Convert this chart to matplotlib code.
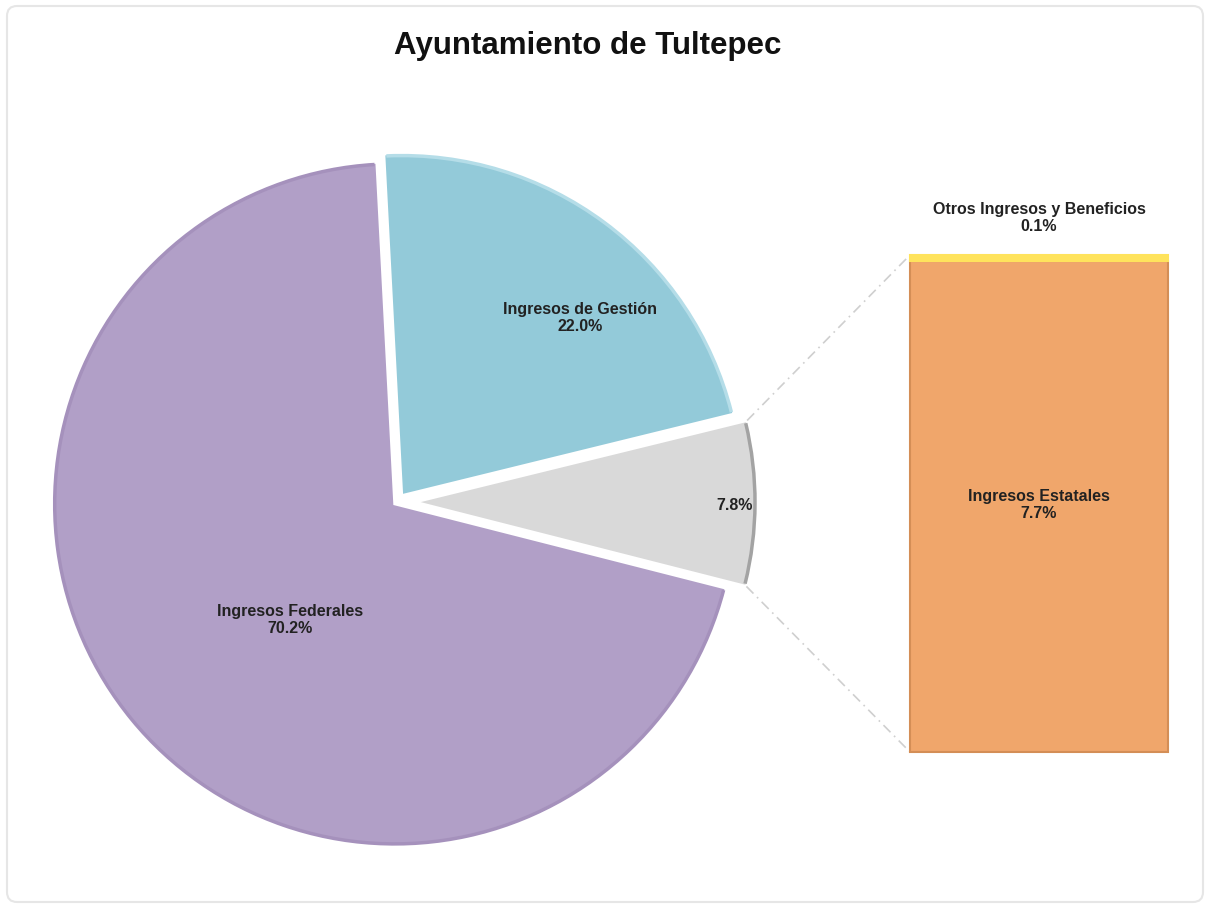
import matplotlib
matplotlib.use("Agg")
import matplotlib.pyplot as plt
from matplotlib.patches import FancyBboxPatch, Arc
import numpy as np

# ---- data ----
title = "Ayuntamiento de Tultepec"
pie_labels = ["Ingresos Federales", "", "Ingresos de Gestión"]
pie_values = [70.2, 7.8, 22.0]
pie_colors = ["#B19FC7", "#D9D9D9", "#93CAD9"]
pie_edges = ["#A591BC", "#A3A3A3", "#B5DDE8"]

bar_labels = ["Ingresos Estatales", "Otros Ingresos y Beneficios"]
bar_values = [7.7, 0.1]
bar_colors = ["#F0A66B", "#FFE35C"]

W, H = 1205, 907
fig = plt.figure(figsize=(W / 100, H / 100), dpi=100)
ax = fig.add_axes([0, 0, 1, 1])

# outer frame
frame = FancyBboxPatch((7, 5), W - 9, H - 11, boxstyle="round,pad=0,rounding_size=10",
                       fc="white", ec="#E6E6E6", lw=1.5, zorder=0)
ax.add_patch(frame)

FONT = ["Liberation Sans Narrow", "Liberation Sans", "DejaVu Sans"]

# ---- pie ----
cx, cy, R = 397, H - 502, 342
wedges, _ = ax.pie(pie_values, startangle=93, counterclock=True, radius=R,
                   center=(cx, cy), colors=pie_colors, explode=[3, 18, 8],
                   wedgeprops=dict(edgecolor="white", linewidth=2), frame=True)
ax.set_xlim(0, W)
ax.set_ylim(0, H)
ax.set_aspect("equal")
ax.axis("off")

# darker rim on outer arc
for w, ec in zip(wedges, pie_edges):
    arc = Arc(w.center, 2 * w.r - 4, 2 * w.r - 4, theta1=w.theta1 + 0.4, theta2=w.theta2 - 0.4,
              color=ec, lw=2.5, zorder=3)
    ax.add_patch(arc)

# pie labels
label_pos = [(290, 620), (735, 505), (580, 318)]
for (lx, ly), name, v in zip(label_pos, pie_labels, pie_values):
    txt = f"{name}\n{v:.1f}%" if name else f"{v:.1f}%"
    ax.text(lx, H - ly, txt, ha="center", va="center", fontsize=11.5,
            fontweight="bold", family=FONT, color="#222222", linespacing=1.15, zorder=5)

# ---- bar ----
bx0, bx1 = 910, 1168
by_bottom = H - 752
bar_h_total = 497
scale = bar_h_total / sum(bar_values)
bottom = by_bottom
for v, c in zip(bar_values, bar_colors):
    ax.bar((bx0 + bx1) / 2, v * scale, width=bx1 - bx0, bottom=bottom, color=c,
           edgecolor="#D48E56" if c == bar_colors[0] else c, linewidth=1.5, zorder=3)
    bottom += v * scale

ax.text((bx0 + bx1) / 2, H - 505, f"{bar_labels[0]}\n{bar_values[0]:.1f}%", ha="center",
        va="center", fontsize=11.5, fontweight="bold", family=FONT, color="#222222",
        linespacing=1.15, zorder=5)
ax.text((bx0 + bx1) / 2, H - 218, f"{bar_labels[1]}\n{bar_values[1]:.1f}%", ha="center",
        va="center", fontsize=11.5, fontweight="bold", family=FONT, color="#222222",
        linespacing=1.15, zorder=5)

# ---- connector lines ----
g = wedges[1]
gx, gy = g.center
t1, t2 = np.deg2rad(g.theta1), np.deg2rad(g.theta2)
p_low = (gx + g.r * np.cos(t1), gy + g.r * np.sin(t1))
p_high = (gx + g.r * np.cos(t2), gy + g.r * np.sin(t2))
ax.plot([p_high[0], bx0], [p_high[1], bottom], ls=(0, (6, 3, 1, 3)), color="#CFCFCF",
        lw=1.2, zorder=2)
ax.plot([p_low[0], bx0], [p_low[1], by_bottom], ls=(0, (6, 3, 1, 3)), color="#CFCFCF",
        lw=1.2, zorder=2)

# ---- title ----
ax.text(588, H - 46, title, ha="center", va="center", fontsize=22.5, fontweight="bold",
        family=["Liberation Sans", "DejaVu Sans"], color="#111111")

fig.savefig("out.png", dpi=100)
